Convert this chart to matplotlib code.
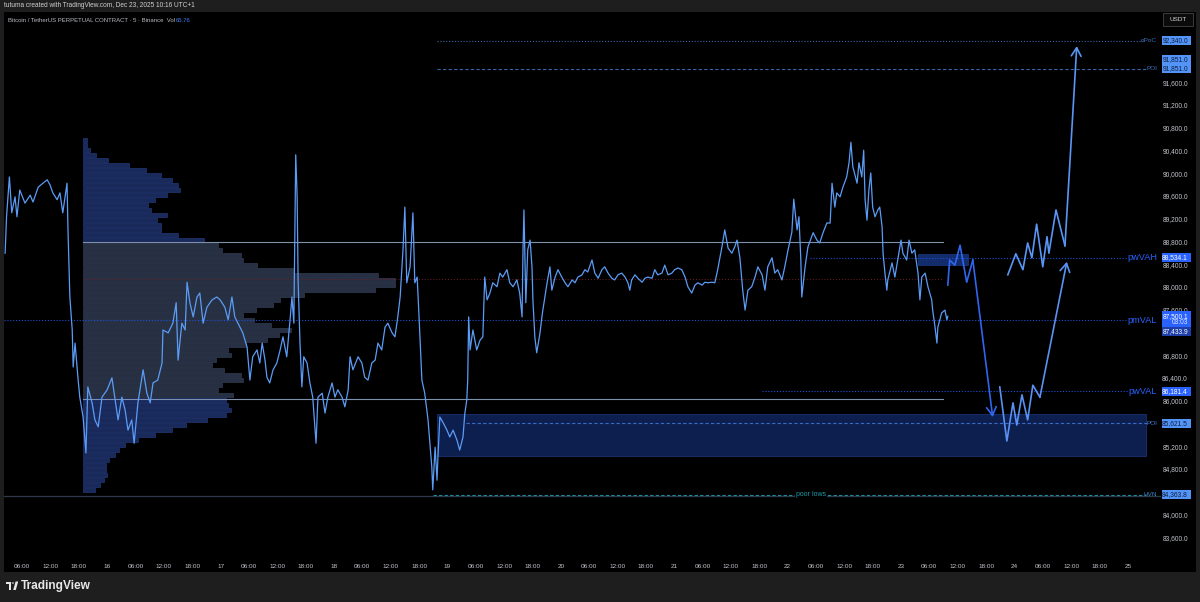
import numpy as np
import matplotlib
matplotlib.use("Agg")
import matplotlib.pyplot as plt
from matplotlib.patches import Rectangle, Polygon, Circle
from matplotlib.transforms import blended_transform_factory
from matplotlib import font_manager

# ---------------- data (hours since Dec 15 00:00, USDT) ----------------
t_hours = [2.4, 2.7, 3.3, 3.8, 4.5, 4.9, 5.5, 6.6, 7.7, 8.3, 9.4, 10.4, 11.3, 11.9, 12.5, 13.4, 14.0, 14.6, 15.5, 15.7,
           16.1, 16.6, 16.8, 17.2, 17.8, 18.2, 18.9, 19.5, 19.9, 20.8, 21.4, 22.1, 22.9, 24.0, 25.0, 25.6, 26.3, 27.1, 27.8, 28.4,
           29.2, 29.7, 30.5, 31.6, 32.4, 33.1, 33.7, 34.7, 35.6, 35.8, 36.9, 37.9, 38.6, 39.0, 39.8, 40.5, 40.9, 41.5, 42.2, 43.0,
           43.6, 44.3, 45.1, 46.2, 47.2, 47.9, 48.9, 49.6, 50.4, 51.0, 52.1, 52.7, 53.6, 54.2, 54.8, 55.7, 56.3, 56.8, 57.4, 57.8,
           58.4, 59.1, 59.9, 60.6, 61.2, 62.0, 62.7, 63.1, 63.5, 63.9, 64.2, 64.4, 64.8, 65.2, 65.6, 66.3, 66.9, 67.5, 68.0, 68.2,
           68.6, 69.5, 70.1, 70.7, 71.6, 72.2, 72.8, 73.7, 74.3, 75.0, 75.4, 76.0, 77.1, 77.9, 78.5, 79.2, 80.0, 80.7, 81.3, 82.1,
           82.8, 83.4, 84.3, 84.9, 85.5, 86.0, 86.6, 87.0, 87.4, 88.1, 88.7, 89.1, 89.6, 90.0, 90.6, 91.2, 91.9, 92.7, 92.9, 93.4,
           93.8, 94.0, 94.4, 95.1, 95.9, 96.5, 97.2, 98.0, 98.6, 99.3, 99.7, 100.1, 100.3, 100.5, 100.8, 101.4, 102.2, 102.9, 103.5, 103.9,
           104.4, 105.0, 105.6, 106.5, 107.1, 107.7, 108.6, 109.2, 109.9, 110.7, 111.3, 111.8, 112.0, 112.2, 112.6, 113.0, 113.5, 113.9, 114.1, 114.5,
           114.9, 115.6, 116.0, 116.2, 117.1, 117.7, 118.1, 118.8, 119.4, 120.2, 120.9, 121.5, 122.4, 123.0, 123.6, 124.5, 125.1, 125.7, 126.6, 127.2,
           127.9, 128.7, 129.3, 130.0, 130.8, 131.4, 132.1, 132.9, 133.6, 134.2, 134.6, 135.0, 135.7, 136.3, 137.2, 137.8, 138.4, 139.3, 139.9, 140.5,
           141.4, 142.0, 142.7, 143.5, 144.1, 144.8, 145.6, 146.3, 146.9, 147.7, 148.4, 149.0, 149.9, 150.5, 151.1, 152.0, 152.6, 153.2, 154.1, 154.7,
           155.4, 156.2, 156.8, 157.3, 157.9, 158.5, 159.0, 159.6, 160.4, 161.1, 161.7, 162.6, 163.2, 163.8, 164.7, 165.3, 165.9, 166.8, 167.4, 168.1,
           168.9, 169.3, 170.0, 170.4, 170.8, 171.0, 171.7, 172.3, 173.4, 174.2, 174.8, 175.5, 176.3, 177.0, 177.4, 178.0, 178.4, 179.1, 179.7, 180.5,
           181.0, 181.4, 181.8, 182.7, 183.1, 183.7, 184.1, 184.4, 184.8, 185.2, 185.6, 186.0, 186.5, 187.1, 187.5, 188.0, 188.2, 188.6, 189.0, 189.2,
           190.1, 190.7, 191.3, 192.0, 192.4, 193.2, 193.7, 194.3, 194.9, 195.6, 196.0, 196.4, 197.1, 197.7, 198.5, 198.7, 199.2, 199.6, 199.8, 200.6,
           201.3, 201.7, 201.9]
price = [88610, 89250, 89950, 89320, 89600, 89250, 89720, 89490, 89630, 89510, 89770, 89840, 89900, 89810, 89670, 89550, 89670, 89320, 89840, 89020,
         87840, 87260, 86610, 87030, 86430, 86080, 85730, 85100, 86260, 85980, 85680, 85560, 86080, 86210, 86420, 86080, 85680, 86080, 85850, 85500,
         85680, 85270, 85980, 86560, 86150, 85980, 86330, 86380, 86680, 87260, 87210, 87380, 87740, 86730, 87380, 87260, 88100, 87740, 87490, 87840,
         87910, 87380, 87660, 87790, 87840, 87790, 87660, 87440, 87840, 87490, 87310, 87210, 86960, 86380, 86790, 86910, 86680, 87030, 86730, 86430,
         86330, 86560, 86680, 86910, 87140, 86790, 87440, 87840, 87380, 90340, 89600, 88140, 87030, 86260, 86790, 86680, 86330, 86080, 85500, 85270,
         86080, 86150, 85800, 86080, 86330, 86080, 86210, 86080, 85910, 86210, 86790, 86560, 86790, 86680, 86430, 86380, 86680, 86730, 87030, 86910,
         87310, 87380, 87210, 87140, 87490, 87840, 88670, 89420, 88090, 88370, 89320, 88090, 88190, 87490, 86380, 86150, 85680, 84850, 84450, 85200,
         84620, 85030, 85730, 85630, 85500, 85380, 85500, 85330, 85150, 85380, 85800, 86030, 86380, 87490, 86910, 87260, 86910, 87080, 87140, 88190,
         87790, 87910, 88090, 88020, 88260, 88190, 88320, 88090, 88020, 88140, 87910, 87490, 88670, 89370, 87740, 88670, 88840, 88370, 87790, 87140,
         86860, 87210, 87490, 87610, 88090, 88370, 87960, 88190, 88320, 88190, 88090, 88020, 88140, 88090, 88190, 88230, 88320, 88280, 88490, 88260,
         88170, 88320, 88370, 88260, 88170, 88140, 88230, 88260, 88190, 88090, 87960, 88140, 88230, 88170, 88100, 88170, 88190, 88170, 88320, 88230,
         88260, 88400, 88230, 88260, 88320, 88350, 88320, 88190, 88020, 87910, 88050, 88090, 88050, 88100, 88090, 88100, 88090, 88320, 88720, 89020,
         88700, 88610, 88720, 88840, 88530, 87960, 87610, 87960, 88020, 88190, 88370, 88230, 87960, 88370, 88530, 88260, 88320, 88140, 88370, 88670,
         88980, 89560, 89020, 89250, 88490, 87840, 88370, 88720, 88970, 88840, 88790, 88970, 89140, 89140, 89840, 89420, 89670, 89600, 89770, 89950,
         90200, 90560, 90130, 89840, 90200, 89950, 90420, 89550, 89190, 89720, 90020, 89420, 89250, 89370, 89420, 89070, 88610, 88260, 87960, 88140,
         88440, 88190, 88490, 88840, 88610, 88490, 88840, 88610, 88670, 88260, 87790, 88190, 88260, 88020, 87790, 87610, 87310, 87030, 87310, 87560,
         87610, 87440, 87500]

# volume profile (rows from top to bottom, relative volume)
profile_top = 90600
profile_step = 88
profile_vol = [4, 4, 7, 12, 24, 44, 60, 74, 84, 90, 92, 80, 68, 62, 64, 80, 70, 74, 74, 90,
               115, 128, 132, 150, 152, 165, 200, 280, 296, 296, 277, 210, 187, 180, 164, 152, 162, 178, 197, 186,
               175, 155, 138, 140, 126, 122, 134, 150, 152, 132, 128, 142, 136, 138, 140, 136, 118, 98, 84, 68,
               52, 40, 34, 30, 25, 22, 22, 23, 20, 16, 11]
profile_start_h = 18.9
profile_end_h = 200.9
vah, val, poc = 88800, 86040, 88157

# key levels
npoc = 92340.0
poi_high = 91851.0
pw_vah = 88534.1
pm_val = 87433.9
pw_val = 86181.4
poi_low = 85621.5
hvn = 84363.8
last_price = 87500.1
hvn_line = 84350

# zones (t0, t1, p0, p1)
zone_poi = (93.8, 243.9, 85046, 85784)
zone_small = (195.6, 206.2, 88400, 88600)

# projection paths
path1_t = [201.9, 202.3, 203.4, 204.5, 205.9, 207.2, 211.4]
path1_p = [88050, 88490, 88400, 88750, 88100, 88490, 85730]
path2_t = [212.9, 214.4, 215.7, 216.5, 217.6, 218.8, 219.9, 221.4, 227.1]
path2_p = [86260, 85310, 85980, 85590, 86120, 85680, 86290, 86080, 88460]
path3_t = [214.6, 216.3, 217.8, 218.8, 219.7, 220.7, 222.0, 222.9, 223.3, 224.8, 226.7, 229.2]
path3_p = [88230, 88600, 88320, 88790, 88530, 89120, 88370, 88900, 88610, 89370, 88740, 92250]

price_ticks = list(range(83600, 92801, 400))
hidden_ticks = [92800, 92400, 92000, 87200, 85600, 84400]
time_ticks = list(range(6, 241, 6))

# ---------------- figure ----------------
W, H = 1200, 602
fig = plt.figure(figsize=(12, 6.02), dpi=100)
fig.patch.set_facecolor('#1e1e1e')

names = {f.name for f in font_manager.fontManager.ttflist}
narrow = 'Liberation Sans Narrow' if 'Liberation Sans Narrow' in names else 'Liberation Sans'


def X(px):
    return px / W


def Y(py):
    return 1 - py / H


ax = fig.add_axes([X(4), Y(572), X(1196) - X(4), Y(12) - Y(572)])
ax.set_facecolor('#000000')
for s in ax.spines.values():
    s.set_visible(False)
ax.set_xticks([])
ax.set_yticks([])
T0, T1 = 2.16, 254.43
P0, P1 = 83007, 92849
ax.set_xlim(T0, T1)
ax.set_ylim(P0, P1)
usd_per_px = (P1 - P0) / 560.0
pane_end = 246.8


def AX(px):
    return (px - 4) / 1192.0


def AY(py):
    return 1 - (py - 12) / 560.0


tyx = blended_transform_factory(ax.transAxes, ax.transData)
txy = blended_transform_factory(ax.transData, ax.transAxes)

# volume profile
rows = profile_top - profile_step * np.arange(len(profile_vol))
vol = np.array(profile_vol, dtype=float)
scale = 66.0 / vol.max()
in_va = (rows <= vah) & (rows >= val)
face = np.where(in_va, '#273043', '#19295a')
edge = np.where(in_va, '#3a4660', '#26408a')
ax.barh(rows, vol * scale, height=profile_step * 0.8, left=profile_start_h,
        color=face, edgecolor=edge, linewidth=0.4, zorder=1)

# VAH / VAL / POC lines
ax.plot([profile_start_h, profile_end_h], [vah, vah], color='#7d8fab', lw=0.8, zorder=2)
ax.plot([profile_start_h, profile_end_h], [val, val], color='#7d8fab', lw=0.8, zorder=2)
ax.plot([profile_start_h, profile_end_h], [poc, poc], color='#6e1f24', lw=0.7, ls=(0, (1, 2)), zorder=2)

# zones
ax.add_patch(Rectangle((zone_poi[0], zone_poi[2]), zone_poi[1] - zone_poi[0], zone_poi[3] - zone_poi[2],
                       facecolor='#0d1f4e', edgecolor='#1b3270', lw=0.6, zorder=1.5))
ax.add_patch(Rectangle((zone_small[0], zone_small[2]), zone_small[1] - zone_small[0], zone_small[3] - zone_small[2],
                       facecolor='#132c6c', edgecolor='#1b3a86', lw=0.5, zorder=1.5))

# level lines
dot = (0, (1, 1.6))
dash = (0, (3, 2))
blue_lvl = '#1f4fd6'
ax.plot([T0, 239.8], [pm_val, pm_val], color=blue_lvl, lw=0.8, ls=dot, zorder=2)
ax.plot([172.7, 239.8], [pw_vah, pw_vah], color=blue_lvl, lw=0.8, ls=dot, zorder=2)
ax.plot([162.6, 240.0], [pw_val, pw_val], color=blue_lvl, lw=0.8, ls=dot, zorder=2)
ax.plot([93.8, 243.5], [npoc, npoc], color='#3b64a8', lw=0.8, ls=dot, zorder=2)
ax.plot([93.8, 244.1], [poi_high, poi_high], color='#3b64a8', lw=0.8, ls=dash, zorder=2)
ax.plot([99.9, 244.1], [poi_low, poi_low], color='#3a68c8', lw=0.8, ls=dash, zorder=2)
ax.plot([T0, pane_end], [hvn_line, hvn_line], color='#2e3a4a', lw=0.9, zorder=1.6)
ax.plot([93.0, 243.8], [hvn, hvn], color='#1b8a96', lw=0.8, ls=dash, zorder=2)
ax.text(172.95, hvn, 'poor lows', color='#1e9aa6', fontsize=5, family=narrow, ha='center', va='center',
        bbox=dict(facecolor='black', edgecolor='none', pad=0.6), zorder=3)

# price line
ax.plot(t_hours, price, color='#5b9cf6', lw=0.9, zorder=4, solid_joinstyle='round')


# projection paths
def draw_path(ts, ps, color):
    ax.plot(ts[:-1], ps[:-1], color=color, lw=1.2, zorder=5)
    ax.annotate('', xy=(ts[-1], ps[-1]), xytext=(ts[-2], ps[-2]),
                arrowprops=dict(arrowstyle='->,head_length=0.6,head_width=0.35', color=color, lw=1.2,
                                shrinkA=0, shrinkB=0), zorder=5)


draw_path(path1_t, path1_p, '#2f66f0')
draw_path(path2_t, path2_p, '#5a92f3')
draw_path(path3_t, path3_p, '#5a96f5')

# level text labels left of the price scale
ax.text(AX(1157), pw_vah, 'pwVAH', transform=tyx, color='#2962ff', fontsize=6.6, family='Liberation Sans', ha='right', va='center')
ax.text(AX(1157), pm_val, 'pmVAL', transform=tyx, color='#2962ff', fontsize=6.6, family='Liberation Sans', ha='right', va='center')
ax.text(AX(1157), pw_val, 'pwVAL', transform=tyx, color='#2962ff', fontsize=6.6, family='Liberation Sans', ha='right', va='center')
ax.text(AX(1157), npoc, 'nPoC', transform=tyx, color='#3f6fc0', fontsize=4.6, family=narrow, ha='right', va='center')
ax.text(AX(1157), poi_high, 'POI', transform=tyx, color='#3f6fc0', fontsize=4.6, family=narrow, ha='right', va='center')
ax.text(AX(1157), poi_low, 'POI', transform=tyx, color='#4a7fd8', fontsize=4.6, family=narrow, ha='right', va='center')
ax.text(AX(1157), hvn, 'HVN', transform=tyx, color='#3f86c8', fontsize=4.6, family=narrow, ha='right', va='center')

# price scale labels
for p in price_ticks:
    if p in hidden_ticks:
        continue
    ax.text(AX(1188), p, f"{p:,.1f}", transform=tyx, ha='right', va='center',
            fontsize=4.8, color='#c2c5cc', family=narrow, zorder=6, clip_on=False)


def price_box(p, text, bg, fg, dy_px=0.0, h_px=9.0, text_dy=0.0):
    yc = p - dy_px * usd_per_px
    h = h_px * usd_per_px
    ax.add_patch(Rectangle((AX(1162), yc - h / 2), AX(1191) - AX(1162), h, transform=tyx,
                           facecolor=bg, edgecolor='none', zorder=8, clip_on=False))
    ax.text(AX(1188), yc - text_dy * usd_per_px, text, transform=tyx, ha='right', va='center',
            fontsize=4.8, color=fg, family=narrow, zorder=9, clip_on=False)


light, dark = '#5294f7', '#0f1d3c'
blue = '#2962ff'
price_box(npoc, f"{npoc:,.1f}", light, dark)
price_box(poi_high, f"{poi_high:,.1f}", light, dark, dy_px=-8.8)
price_box(poi_high, f"{poi_high:,.1f}", light, dark)
price_box(pw_vah, f"{pw_vah:,.1f}", blue, 'white')
price_box(last_price, f"{last_price:,.1f}", blue, 'white', dy_px=2.8, h_px=16.5, text_dy=-2.8)
ax.text(AX(1188), last_price - 6.2 * usd_per_px, '03:03', transform=tyx, ha='right', va='center',
        fontsize=4.8, color='#dfe6ff', family=narrow, zorder=9, clip_on=False)
price_box(pm_val, f"{pm_val:,.1f}", '#1c3ea6', 'white', dy_px=11.0)
price_box(pw_val, f"{pw_val:,.1f}", blue, 'white')
price_box(poi_low, f"{poi_low:,.1f}", light, dark)
price_box(hvn, f"{hvn:,.1f}", light, dark)

# USDT box
ax.add_patch(Rectangle((AX(1163), AY(25.5)), AX(1193) - AX(1163), AY(13.5) - AY(25.5), transform=ax.transAxes,
                       facecolor='#0b0b0b', edgecolor='#3c3c3c', lw=0.7, zorder=8, clip_on=False))
ax.text(AX(1178), AY(19.5), 'USDT', transform=ax.transAxes, ha='center', va='center',
        fontsize=4.6, color='#d8d8d8', family=narrow, zorder=9)

# time axis labels
for h in time_ticks:
    lab = str(15 + h // 24) if h % 24 == 0 else f"{h % 24:02d}:00"
    ax.text(h, AY(566), lab, transform=txy, ha='center', va='center',
            fontsize=4.6, color='#c2c5cc', family=narrow)

# header texts
fig.text(X(4), Y(5.5), 'tutuma created with TradingView.com, Dec 23, 2025 10:16 UTC+1',
         fontsize=4.7, color='#d0d0d0', family='Liberation Sans', ha='left', va='center')
sym = fig.text(X(8), Y(20), 'Bitcoin / TetherUS PERPETUAL CONTRACT · 5 · Binance  Vol',
               fontsize=4.3, color='#b8bbc2', family=narrow, ha='left', va='center')
fig.texts.append(plt.Annotation('65.76', xy=(1, 0.5), xycoords=sym, xytext=(0.6, 0), textcoords='offset points',
                                fontsize=4.3, color='#3f7ff0', family=narrow, ha='left', va='center'))
fig.texts[-1].set_figure(fig)

# TradingView logo
fig.patches.append(Polygon([[X(6), Y(581.5)], [X(11), Y(581.5)], [X(11), Y(590)], [X(8.6), Y(590)],
                            [X(8.6), Y(584)], [X(6), Y(584)]], closed=True, transform=fig.transFigure,
                           facecolor='#e8e8e8', edgecolor='none'))
fig.patches.append(Circle((X(12.9), Y(583)), 1.2 / W, transform=fig.transFigure, facecolor='#e8e8e8', edgecolor='none'))
fig.patches.append(Polygon([[X(13.2), Y(590)], [X(15.6), Y(581.5)], [X(18.2), Y(581.5)], [X(15.8), Y(590)]],
                           closed=True, transform=fig.transFigure, facecolor='#e8e8e8', edgecolor='none'))
fig.text(X(21), Y(586), 'TradingView', fontsize=8.6, fontweight='bold', color='#e8e8e8',
         family='Liberation Sans', ha='left', va='center')

fig.savefig('out.png', dpi=100, facecolor=fig.get_facecolor())
